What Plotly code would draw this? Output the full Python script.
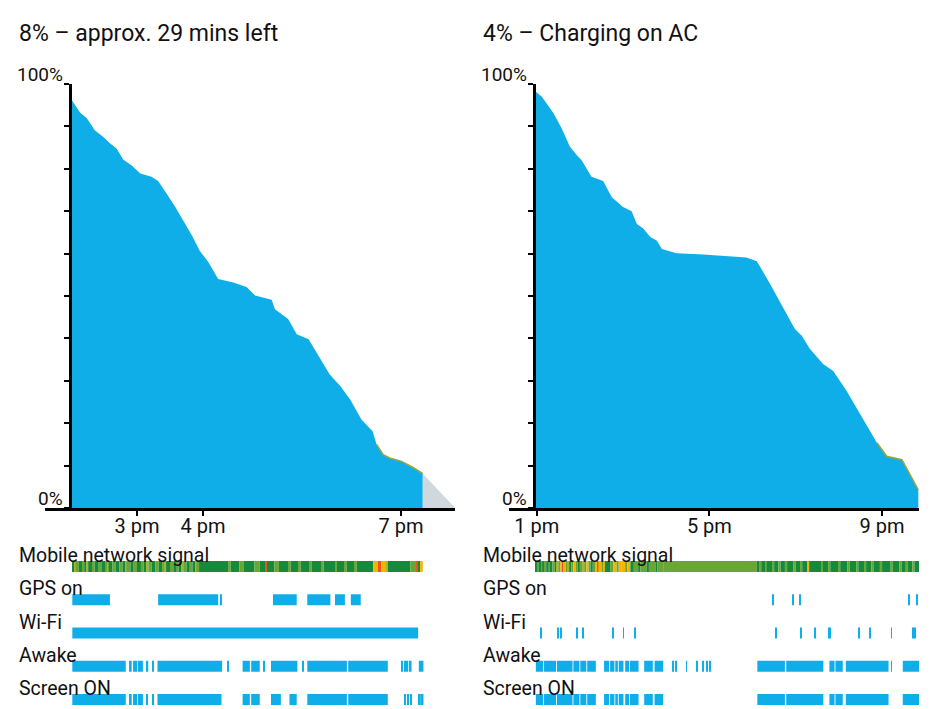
import plotly.graph_objects as go

# ---- battery level (hours of day, percent) ----
left_time = [14.01, 14.14, 14.24, 14.36, 14.49, 14.59, 14.69, 14.79, 14.92, 15.05, 15.22, 15.32,
             15.45, 15.58, 15.70, 15.83, 15.95, 16.08, 16.23, 16.46, 16.66, 16.79, 17.04, 17.09,
             17.29, 17.42, 17.60, 17.77, 17.92, 18.08, 18.23, 18.40, 18.57, 18.63, 18.73, 18.83,
             19.01, 19.19, 19.33]
left_pct = [96.2, 93.2, 91.9, 89.1, 87.5, 86.0, 84.8, 82.2, 80.8, 78.9, 78.1, 77.1,
            74.1, 71.0, 67.8, 64.3, 60.7, 58.0, 54.0, 53.2, 52.1, 50.1, 49.1, 46.9,
            44.6, 41.0, 39.8, 35.5, 31.5, 28.8, 25.6, 20.9, 18.1, 15.0, 12.6, 11.8,
            11.0, 9.5, 8.1]
left_empty_at = 19.82

right_time = [12.98, 13.12, 13.23, 13.39, 13.58, 13.77, 13.93, 14.04, 14.27, 14.54, 14.74, 15.00,
              15.20, 15.32, 15.47, 15.63, 15.78, 15.90, 16.24, 16.86, 17.86, 18.10, 18.41, 18.71,
              18.98, 19.14, 19.33, 19.64, 19.87, 20.18, 20.41, 20.64, 20.88, 21.11, 21.46, 21.65,
              21.84]
right_pct = [98.2, 97.0, 95.4, 93.1, 89.5, 85.2, 83.2, 82.0, 78.1, 77.1, 73.3, 71.0,
             70.0, 67.0, 65.9, 63.9, 63.1, 61.1, 60.1, 59.8, 59.1, 58.2, 52.8, 47.3,
             42.2, 40.6, 37.5, 33.9, 32.3, 27.6, 23.7, 19.7, 15.4, 12.2, 11.4, 7.9,
             4.3]

# ---- mobile network signal: change times and level (0 poor .. 4 great) ----
left_sig_t = [14.02, 14.05, 14.07, 14.12, 14.17, 14.20, 14.24, 14.26, 14.33, 14.36, 14.42, 14.47,
              14.52, 14.55, 14.57, 14.63, 14.68, 14.73, 14.78, 14.82, 14.84, 14.90, 14.95, 15.00,
              15.06, 15.10, 15.15, 15.17, 15.22, 15.28, 15.33, 15.38, 15.42, 15.44, 15.50, 15.55,
              15.60, 15.63, 15.68, 15.70, 15.75, 15.80, 15.84, 15.88, 15.90, 15.94, 16.38, 16.42,
              16.55, 16.62, 16.78, 16.86, 16.95, 16.97, 17.08, 17.15, 17.30, 17.33, 17.45, 17.48,
              17.62, 17.65, 17.80, 17.83, 18.00, 18.03, 18.15, 18.18, 18.30, 18.33, 18.58, 18.65,
              18.70, 18.76, 18.80, 19.14, 19.24, 19.27, 19.29]
left_sig_lvl = [4, 2, 3, 4, 3, 4, 2, 4, 3, 4, 3, 4,
                3, 2, 4, 3, 4, 3, 4, 2, 3, 4, 3, 4,
                3, 4, 2, 3, 4, 3, 4, 3, 2, 4, 3, 4,
                3, 4, 2, 3, 4, 3, 4, 2, 3, 4, 3, 4,
                3, 4, 3, 4, 0, 4, 3, 4, 3, 4, 3, 4,
                3, 4, 3, 4, 3, 4, 3, 4, 3, 4, 1, 0,
                1, 2, 4, 3, 0, 4, 1]
left_sig_end = 19.33

right_sig_t = [12.98, 13.02, 13.06, 13.10, 13.13, 13.18, 13.22, 13.28, 13.33, 13.36, 13.42, 13.47,
               13.50, 13.55, 13.60, 13.63, 13.67, 13.72, 13.75, 13.80, 13.85, 13.90, 13.95, 14.00,
               14.05, 14.10, 14.15, 14.20, 14.25, 14.30, 14.35, 14.40, 14.43, 14.50, 14.55, 14.58,
               14.70, 14.77, 14.85, 14.90, 14.97, 15.05, 15.10, 15.17, 15.25, 15.35, 15.40, 15.55,
               15.60, 15.75, 15.80, 15.93, 18.10, 18.15, 18.20, 18.30, 18.33, 18.45, 18.50, 18.60,
               18.65, 18.75, 18.80, 18.95, 19.00, 19.10, 19.15, 19.27, 19.31, 19.60, 19.63, 19.75,
               19.80, 20.00, 20.03, 20.20, 20.25, 20.40, 20.45, 20.60, 20.63, 20.75, 20.80, 20.95,
               21.00, 21.20, 21.25, 21.40, 21.45, 21.55, 21.60, 21.70, 21.75]
right_sig_lvl = [4, 3, 4, 3, 4, 3, 4, 3, 4, 3, 4, 2,
                 3, 1, 0, 1, 3, 2, 4, 3, 1, 3, 4, 3,
                 2, 3, 1, 3, 4, 3, 1, 0, 1, 3, 1, 4,
                 3, 1, 3, 1, 1, 3, 1, 4, 3, 4, 3, 4,
                 3, 4, 3, 3, 4, 3, 4, 3, 4, 3, 4, 3,
                 4, 3, 4, 3, 4, 3, 4, 1, 4, 3, 4, 3,
                 4, 3, 4, 3, 4, 3, 4, 3, 4, 3, 4, 3,
                 4, 3, 4, 3, 4, 3, 4, 3, 4]
right_sig_end = 21.86

# ---- on/off states: (start, end) in hours ----
left_gps = [(14.02, 14.59), (15.32, 16.23), (16.26, 16.28), (17.06, 17.42), (17.58, 17.93),
            (18.00, 18.15), (18.24, 18.39)]
left_wifi = [(14.02, 19.26)]
left_awake = [(14.02, 14.83), (14.89, 14.92), (14.94, 15.00), (15.01, 15.09), (15.15, 15.17),
              (15.24, 15.25), (15.31, 16.29), (16.37, 16.39), (16.60, 16.71), (16.73, 16.86),
              (16.91, 16.93), (17.03, 17.43), (17.50, 17.52), (17.58, 18.18), (18.20, 18.80),
              (19.01, 19.03), (19.05, 19.07), (19.08, 19.11), (19.13, 19.16), (19.27, 19.34)]
left_screen = [(14.02, 14.83), (14.89, 14.92), (14.94, 15.00), (15.01, 15.09), (15.15, 15.16),
               (15.24, 15.25), (15.31, 16.28), (16.60, 16.71), (16.73, 16.86), (17.03, 17.18),
               (17.31, 17.42), (17.58, 18.18), (18.20, 18.80), (19.05, 19.07), (19.10, 19.12),
               (19.14, 19.16), (19.27, 19.30), (19.31, 19.34)]

right_gps = [(18.46, 18.48), (18.92, 18.94), (19.09, 19.11), (21.62, 21.64), (21.79, 21.81)]
right_wifi = [(13.09, 13.11), (13.49, 13.51), (13.55, 13.57), (13.92, 13.94), (14.07, 14.09),
              (14.75, 14.77), (15.00, 15.02), (15.27, 15.29), (18.53, 18.55), (19.11, 19.13),
              (19.44, 19.46), (19.75, 19.77), (19.79, 19.81), (20.46, 20.48), (20.71, 20.73),
              (21.21, 21.23), (21.70, 21.72), (21.75, 21.77)]
right_awake = [(12.98, 13.10), (13.12, 13.15), (13.17, 13.45), (13.47, 13.83), (13.85, 13.99),
               (14.01, 14.15), (14.17, 14.37), (14.56, 14.68), (14.70, 14.80), (14.82, 14.88),
               (14.90, 15.01), (15.05, 15.14), (15.16, 15.36), (15.49, 15.69), (15.73, 15.93),
               (16.14, 16.16), (16.22, 16.24), (16.46, 16.48), (16.70, 16.72), (16.85, 16.87),
               (16.93, 16.95), (17.01, 17.03), (18.11, 18.75), (18.78, 19.64), (19.78, 19.90),
               (19.92, 20.09), (20.16, 21.15), (21.21, 21.23), (21.48, 21.88)]
right_screen = [(12.98, 13.10), (13.12, 13.15), (13.17, 13.45), (13.47, 13.83), (13.85, 13.99),
                (14.01, 14.15), (14.17, 14.37), (14.56, 14.68), (14.70, 14.80), (14.82, 14.88),
                (14.90, 15.01), (15.05, 15.14), (15.16, 15.36), (15.49, 15.69), (15.73, 15.93),
                (18.11, 18.75), (18.78, 19.64), (19.78, 19.90), (19.92, 20.09), (20.16, 21.15),
                (21.48, 21.88)]

left_ticks = [15, 16, 19]
left_tick_text = ["3 pm", "4 pm", "7 pm"]
right_ticks = [13, 17, 21]
right_tick_text = ["1 pm", "5 pm", "9 pm"]

row_names = ["Mobile network signal", "GPS on", "Wi-Fi", "Awake", "Screen ON"]

BLUE = "#10aee9"
GREY = "#cfd8dc"
SIG_COLORS = {0: "#e8561e", 1: "#f4b400", 2: "#a8b52c", 3: "#6aa635", 4: "#16893c"}
FONT = "Roboto"
OFF = 8  # page body margin
W, H = 942, 701


def px_x(p):
    return (p - OFF) / W


def px_y(p):
    return (H - (p - OFF)) / H


fig = go.Figure()


def add_panel(t, pct, xa, ya, xs, ys, sig_t, sig_lvl, sig_end, rows, empty_at=None):
    fig.add_trace(go.Scatter(x=t, y=pct, mode="lines", fill="tozeroy", fillcolor=BLUE,
                             line=dict(width=0, color=BLUE), xaxis=xa, yaxis=ya, hoverinfo="skip"))
    if empty_at is not None:
        fig.add_trace(go.Scatter(x=[t[-1], empty_at, t[-1]], y=[pct[-1], 0, 0], mode="lines",
                                 fill="toself", fillcolor=GREY, line=dict(width=0),
                                 xaxis=xa, yaxis=ya, hoverinfo="skip"))
    low = [i for i, v in enumerate(pct) if v <= 16]
    fig.add_trace(go.Scatter(x=[t[i] for i in low], y=[pct[i] for i in low], mode="lines",
                             line=dict(width=1.5, color="#9ea63a"), xaxis=xa, yaxis=ya,
                             hoverinfo="skip"))

    # network strip
    ends = sig_t[1:] + [sig_end]
    fig.add_trace(go.Bar(orientation="h", y=[0] * len(sig_t), base=sig_t,
                         x=[e - s for s, e in zip(sig_t, ends)], width=0.33,
                         marker=dict(color=[SIG_COLORS[l] for l in sig_lvl], line=dict(width=0)),
                         xaxis=xs, yaxis=ys, hoverinfo="skip"))
    for r, segs in enumerate(rows, start=1):
        fig.add_trace(go.Bar(orientation="h", y=[r] * len(segs), base=[s for s, e in segs],
                             x=[e - s for s, e in segs], width=0.33,
                             marker=dict(color=BLUE, line=dict(width=0)),
                             xaxis=xs, yaxis=ys, hoverinfo="skip"))


add_panel(left_time, left_pct, "x", "y", "x3", "y3", left_sig_t, left_sig_lvl, left_sig_end,
          [left_gps, left_wifi, left_awake, left_screen], left_empty_at)
add_panel(right_time, right_pct, "x2", "y2", "x4", "y4", right_sig_t, right_sig_lvl, right_sig_end,
          [right_gps, right_wifi, right_awake, right_screen])

# pixel -> hours for each panel
left_range = [15 + (45 - 137) / 66, 15 + (455 - 137) / 66]
right_range = [13 + (509 - 536.7) / 43.17, 13 + (919 - 536.7) / 43.17]

ydom = [px_y(508), px_y(84)]
xaxis_common = dict(showline=True, linecolor="black", linewidth=3, ticks="outside", ticklen=5,
                    tickwidth=2, tickcolor="black", showgrid=False, zeroline=False,
                    ticklabelstandoff=-7,
                    tickfont=dict(family=FONT, size=20, color="#111"), fixedrange=True)
yaxis_common = dict(range=[0, 100], domain=ydom, anchor="free", showline=True, linecolor="black",
                    linewidth=3, ticks="outside", ticklen=5, tickwidth=2, tickcolor="black",
                    dtick=10, tick0=0, showticklabels=False, showgrid=False, zeroline=False)

status_range = [(709 - 566.5) / 33.25, (545 - 566.5) / 33.25]
status_dom = [0, px_y(545)]

fig.update_layout(
    width=W, height=H, margin=dict(l=0, r=0, t=0, b=0),
    paper_bgcolor="white", plot_bgcolor="rgba(0,0,0,0)",
    showlegend=False, barmode="overlay",
    xaxis=dict(domain=[px_x(45), px_x(455)], range=left_range, anchor="y",
               tickvals=left_ticks, ticktext=left_tick_text, **xaxis_common),
    yaxis=dict(position=px_x(70), **yaxis_common),
    xaxis2=dict(domain=[px_x(509), px_x(919)], range=right_range, anchor="y2",
                tickvals=right_ticks, ticktext=right_tick_text, **xaxis_common),
    yaxis2=dict(position=px_x(534), **yaxis_common),
    xaxis3=dict(domain=[px_x(45), px_x(455)], range=left_range, anchor="y3", visible=False),
    yaxis3=dict(domain=status_dom, range=status_range, anchor="x3", visible=False),
    xaxis4=dict(domain=[px_x(509), px_x(919)], range=right_range, anchor="y4", visible=False),
    yaxis4=dict(domain=status_dom, range=status_range, anchor="x4", visible=False),
)

annotations = []
for x0, title in [(17, "8% – approx. 29 mins left"), (481, "4% – Charging on AC")]:
    annotations.append(dict(text=title, x=px_x(x0), y=px_y(33), xref="paper", yref="paper",
                            xanchor="left", yanchor="middle", showarrow=False,
                            font=dict(family=FONT, size=23, color="#111")))
for x0, yref in [(65, "y"), (529, "y2")]:
    for val, lab in [(100, "100%"), (0, "0%")]:
        annotations.append(dict(text=lab, x=px_x(x0), y=val, xref="paper", yref=yref,
                                xanchor="right", yanchor="bottom", yshift=-4, showarrow=False,
                                font=dict(family=FONT, size=19, color="#111")))
for x0, yref in [(17, "y3"), (481, "y4")]:
    for r, name in enumerate(row_names):
        annotations.append(dict(text=name, x=px_x(x0), y=r - 0.165, xref="paper", yref=yref,
                                xanchor="left", yanchor="bottom", yshift=-8, showarrow=False,
                                font=dict(family=FONT, size=19.5, color="#111")))
fig.update_layout(annotations=annotations)

fig.write_html("out.html")
